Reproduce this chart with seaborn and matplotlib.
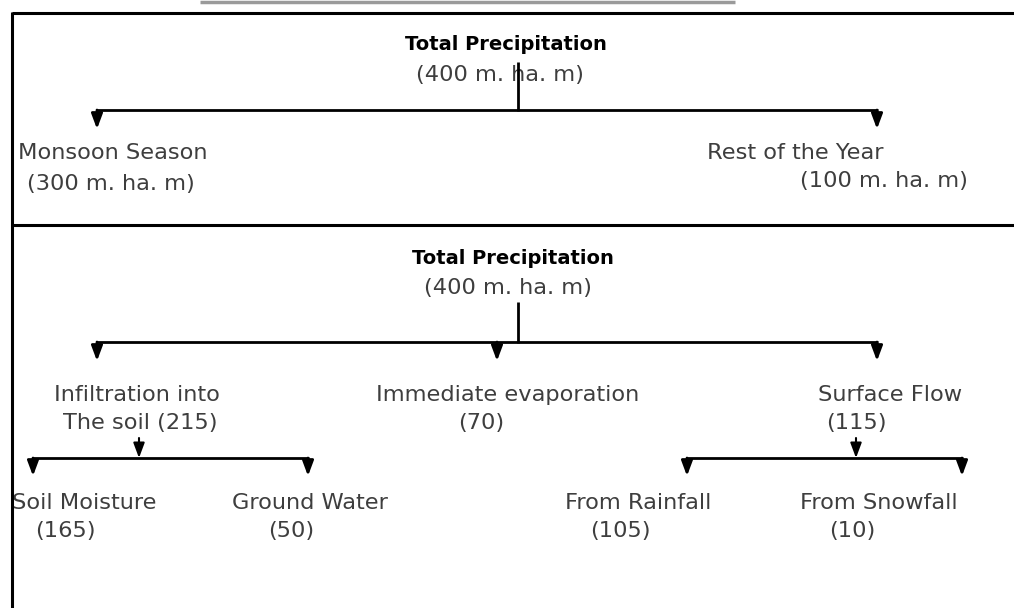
import matplotlib
matplotlib.use("Agg")
import matplotlib.pyplot as plt
import seaborn as sns

sns.set_theme(style="white")
plt.rcParams['font.family'] = ['DejaVu Sans']

# ---- content ----
root_title = "Total Precipitation"
root_value = "(400 m. ha. m)"

season_names = ["Monsoon Season", "Rest of the Year"]
season_values = ["(300 m. ha. m)", "(100 m. ha. m)"]

split_names = ["Infiltration into", "Immediate evaporation", "Surface Flow"]
split_values = ["The soil (215)", "(70)", "(115)"]

infil_names = ["Soil Moisture", "Ground Water"]
infil_values = ["(165)", "(50)"]

surface_names = ["From Rainfall", "From Snowfall"]
surface_values = ["(105)", "(10)"]

W, H = 1014, 608
fig = plt.figure(figsize=(W / 100, H / 100), dpi=100)
ax = fig.add_axes([0, 0, 1, 1])
ax.set_xlim(0, W)
ax.set_ylim(H, 0)
ax.axis("off")

TXT = "#3e3e3e"
LW = 2.0
FS = 16.2

def line(x0, y0, x1, y1, lw=LW, color="black", z=2):
    ax.plot([x0, x1], [y0, y1], color=color, lw=lw, solid_capstyle="butt", zorder=z)

def arrow(x, y0, y1, lw=LW):
    ax.annotate("", xy=(x, y1), xytext=(x, y0),
                arrowprops=dict(arrowstyle="-|>,head_length=0.75,head_width=0.28",
                                color="black", lw=lw, shrinkA=0, shrinkB=0))

def txt(x, y, s, ha="center", bold=False, color=TXT, fs=FS):
    ax.text(x, y, s, ha=ha, va="center", fontsize=fs,
            fontweight="bold" if bold else "normal",
            color="black" if bold else color, zorder=1)

# top gray rule
line(200, 2, 735, 2, lw=2.5, color="#9a9a9a")
# frame
line(12, 13, W + 5, 13, lw=2.2, z=5)
line(12, 12, 12, H + 5, lw=2.2, z=5)
line(12, 225, W + 5, 225, lw=2.2, z=5)
ax.fill_between([0, 11], [0, 0], [H, H], color="white", zorder=4, lw=0)

# ---- top section ----
txt(506, 44, root_title, bold=True, fs=14)
txt(500, 75, root_value)
line(518, 62, 518, 111)
line(96, 110, 878, 110)
arrow(97, 110, 129)
arrow(877, 110, 129)
txt(18, 153, season_names[0], ha="left")
txt(27, 184, season_values[0], ha="left")
txt(707, 153, season_names[1], ha="left")
txt(800, 181, season_values[1], ha="left")

# ---- bottom section ----
txt(513, 259, root_title, bold=True, fs=14)
txt(508, 288, root_value)
line(518, 302, 518, 343)
line(96, 342, 878, 342)
arrow(97, 342, 361)
arrow(497, 342, 361)
arrow(877, 342, 361)

txt(137, 395, split_names[0])
txt(140, 423, split_values[0])
txt(508, 395, split_names[1])
txt(481, 423, split_values[1])
txt(890, 395, split_names[2])
txt(856, 423, split_values[2])

# infiltration branch
arrow(139, 438, 458, lw=1.5)
line(32, 458, 309, 458)
arrow(33, 458, 476)
arrow(308, 458, 476)
txt(84, 503, infil_names[0])
txt(65, 531, infil_values[0])
txt(310, 503, infil_names[1])
txt(291, 531, infil_values[1])

# surface flow branch
arrow(856, 438, 458, lw=1.5)
line(686, 458, 963, 458)
arrow(687, 458, 476)
arrow(962, 458, 476)
txt(638, 503, surface_names[0])
txt(620, 531, surface_values[0])
txt(879, 503, surface_names[1])
txt(852, 531, surface_values[1])

fig.savefig("out.png", dpi=100, facecolor="white")
